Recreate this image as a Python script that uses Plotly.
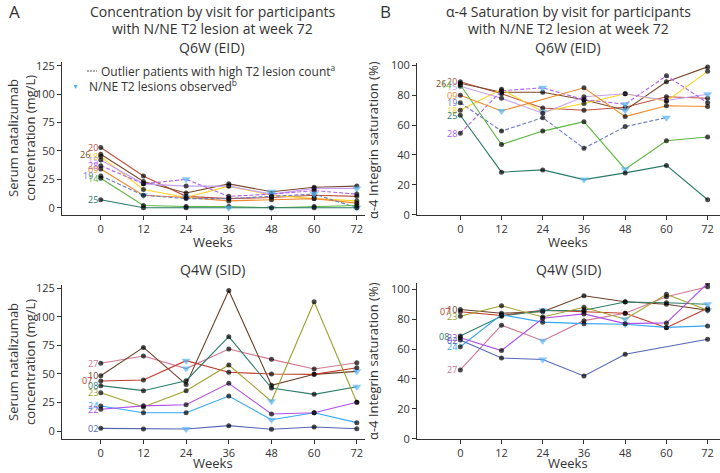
import plotly.graph_objects as go

# ---------------- data ----------------
WEEKS = [0, 12, 24, 36, 48, 60, 72]

# Q6W (EID) participants
Q6W_IDS = ["20", "26", "18", "15", "28", "09", "19", "14", "25"]
Q6W_OUTLIERS = ["19", "28"]
# Serum natalizumab concentration (mg/L), rows follow Q6W_IDS
Q6W_CONC = [
    [53, 28, 10, 8, 9, 11, 10],
    [47, 23, 13, 21, 14, 18, 19],
    [45, 16, 9, 19, 11, 8, 6],
    [42, 21, 19, 19, 12, 17, 17],
    [37, 21, 25, 10, 12, 15, 12],
    [34, 11, 9, 6, 7, 8, 4],
    [28, 11, 8, 8, 10, 12, 0],
    [26, 2, 1, 1, 0, 1, 2],
    [7, 0, 0, 0, 0, 0, 0],
]
# alpha-4 integrin saturation (%), rows follow Q6W_IDS
Q6W_SAT = [
    [89, 81, 71.5, 70, 72, 79, 78],
    [88, 82, 82, 77, 70, 89, 99],
    [70, 84, 69, 74.5, 81, 76, 96],
    [86, 78, 68, 79, 81, 76.5, 80.7],
    [54.5, 83, 85, 77, 74, 93, 75],
    [80, 69.5, None, 85, 65.7, 73, 72.5],
    [75, 56, 65, 44.5, 59, 65, None],
    [87, 47, 56, 62.3, 30.5, 49.5, 52],
    [66.6, 28.5, 30, 23.5, 28, 33, 10],
]
# weeks at which N/NE T2 lesions were observed
Q6W_LESION_WEEKS = [[], [48], [24], [72], [24, 48], [12], [60, 72], [48], [36]]

# Q4W (SID) participants
Q4W_IDS = ["27", "10", "07", "08", "23", "24", "22", "02"]
Q4W_CONC = [
    [59.3, 65.7, 54.6, 71.8, 62.7, 54.3, 59.8],
    [48.4, 73.2, 40.8, 123, 40, 49.6, 52.2],
    [43.8, 44.6, 61.6, 51.4, 49.9, 49.6, 55.4],
    [39.7, 35.3, 44, 82.6, 37.6, 32.1, 38.8],
    [33.5, 21, 35.3, 57.8, 26, 113.2, 25.1],
    [21.9, 16, 16, 30.6, 9.9, 16, 7.3],
    [19, 22, 23, 41.7, 14.9, 16, 25.1],
    [2.3, 1.8, 1.8, 4.7, 1.5, 3.5, 2],
]
Q4W_SAT = [
    [46, 76, 65.6, 79, 84, 95, 101.7],
    [86.5, 84, 85, 95.7, 91.7, 90, 86],
    [85, 82.5, 86, 85, 84, 74.3, 87.3],
    [68.7, 82, 85.7, 86, 91.5, 91, 90],
    [82, 89, 81.5, 88, 80, 96.6, 86],
    [61.5, 83, 78, 77, 76.6, 74.5, 75.5],
    [67.5, 59, 80.6, 83.5, 77, 77.5, 104],
    [66, 54, 53, 42, 56.5, None, 66.5],
]
Q4W_LESION_WEEKS = [[24], [72], [24], [72], [48], [48], [], [24]]

# ---------------- styling ----------------
COLORS = {
    "20": "#c0503f", "26": "#7a4a2a", "18": "#ffd21f", "15": "#c6a0f2",
    "28": "#b060f5", "09": "#f08a2a", "19": "#6a7cc0", "14": "#5cb840",
    "25": "#2a7a6a",
    "27": "#d27890", "10": "#6b4026", "07": "#c0392b", "08": "#2e7d6b",
    "23": "#a0a030", "24": "#35a7f5", "22": "#b050e8", "02": "#5466b8",
}
TRI = "#55b4f5"
TXT = "#333333"
FONT = "Open Sans"
W, H = 720, 473

def px(x):
    return x / W

def py(y):
    return 1 - y / H

# panel definitions: (xaxis, yaxis, ids, values, lesions, outliers, label nudges)
panels = [
    ("x", "y", Q6W_IDS, Q6W_CONC, Q6W_LESION_WEEKS, Q6W_OUTLIERS, {"26": -8, "19": -5}),
    ("x2", "y2", Q6W_IDS, Q6W_SAT, Q6W_LESION_WEEKS, Q6W_OUTLIERS, {"26": -11, "14": -6}),
    ("x3", "y3", Q4W_IDS, Q4W_CONC, Q4W_LESION_WEEKS, [], {"07": -6}),
    ("x4", "y4", Q4W_IDS, Q4W_SAT, Q4W_LESION_WEEKS, [], {"07": -7, "08": -8}),
]

fig = go.Figure()
annotations = []

for xa, ya, ids, vals, lesions, outliers, nudges in panels:
    for pid, series, les in zip(ids, vals, lesions):
        syms, cols, sizes = [], [], []
        for wk in WEEKS:
            if wk in les:
                syms.append("triangle-down"); cols.append(TRI); sizes.append(8)
            else:
                syms.append("circle"); cols.append("black"); sizes.append(5)
        fig.add_trace(go.Scatter(
            x=WEEKS, y=series, xaxis=xa, yaxis=ya, mode="lines+markers",
            connectgaps=True, showlegend=False, hoverinfo="skip",
            line=dict(color=COLORS[pid], width=1.1,
                      dash="4px,2px" if pid in outliers else "solid"),
            marker=dict(symbol=syms, color=cols, size=sizes, line=dict(width=0)),
        ))
        annotations.append(dict(
            x=WEEKS[0], y=series[0], xref=xa, yref=ya, text=pid, showarrow=False,
            xanchor="right", yanchor="middle", xshift=-1 + nudges.get(pid, 0),
            font=dict(family=FONT, size=9, color=COLORS[pid]),
        ))

axis_common = dict(showline=True, linecolor=TXT, linewidth=1, ticks="outside",
                   ticklen=4, tickcolor=TXT, showgrid=False, zeroline=False,
                   automargin=False,
                   tickfont=dict(family=FONT, size=11, color=TXT))
xticks = dict(tickmode="array", tickvals=WEEKS, ticktext=[str(w) for w in WEEKS])

fig.update_layout(
    template="none",
    width=W, height=H, autosize=False, margin=dict(l=0, r=0, t=0, b=0, pad=0),
    paper_bgcolor="white", plot_bgcolor="white", showlegend=False,
    xaxis=dict(domain=[px(62), px(365)], range=[-10.9, 74.3], anchor="y", **xticks, **axis_common),
    yaxis=dict(domain=[py(215), py(62)], range=[-6.43, 128.3], anchor="x",
               tickvals=[0, 25, 50, 75, 100, 125], **axis_common),
    xaxis2=dict(domain=[px(417), px(720)], range=[-12.6, 75.6], anchor="y2", **xticks, **axis_common),
    yaxis2=dict(domain=[py(214.7), py(63)], range=[0, 101.6], anchor="x2",
                tickvals=[0, 20, 40, 60, 80, 100], **axis_common),
    xaxis3=dict(domain=[px(62), px(365)], range=[-10.9, 74.3], anchor="y3", **xticks, **axis_common),
    yaxis3=dict(domain=[py(438.7), py(285)], range=[-6.74, 127.8], anchor="x3",
                tickvals=[0, 25, 50, 75, 100, 125], **axis_common),
    xaxis4=dict(domain=[px(417), px(720)], range=[-12.6, 75.6], anchor="y4", **xticks, **axis_common),
    yaxis4=dict(domain=[py(438.7), py(283)], range=[0, 104.2], anchor="x4",
                tickvals=[0, 20, 40, 60, 80, 100], **axis_common),
)

def text(x, y, s, size, color=TXT, **kw):
    d = dict(x=px(x), y=py(y), xref="paper", yref="paper", text=s, showarrow=False,
             xanchor="center", yanchor="middle",
             font=dict(family=FONT, size=size, color=color))
    d.update(kw)
    annotations.append(d)

# panel letters
text(7, 11, "A", 17, xanchor="left")
text(378, 11, "B", 17, xanchor="left")
# titles
text(212, 12, "Concentration by visit for participants", 14)
text(212, 28, "with N/NE T2 lesion at week 72", 14)
text(568, 12, "α-4 Saturation by visit for participants", 14)
text(568, 28, "with N/NE T2 lesion at week 72", 14)
# subplot titles
text(212, 47, "Q6W (EID)", 14)
text(568, 47, "Q6W (EID)", 14)
text(212, 269, "Q4W (SID)", 14)
text(568, 269, "Q4W (SID)", 14)
# x titles
text(213, 242, "Weeks", 13)
text(568, 242, "Weeks", 13)
text(213, 463, "Weeks", 13)
text(568, 463, "Weeks", 13)
# y titles
text(21, 138, "Serum natalizumab<br>concentration (mg/L)", 13, textangle=-90)
text(21, 362, "Serum natalizumab<br>concentration (mg/L)", 13, textangle=-90)
text(373, 140, "α-4 Integrin saturation (%)", 13, textangle=-90)
text(373, 361, "α-4 Integrin saturation (%)", 13, textangle=-90)
# legend entries
text(99, 71, "Outlier patients with high T2 lesion count<sup>a</sup>", 12, xanchor="left")
text(75, 86, "▼", 7, color=TRI)
text(87, 86, "N/NE T2 lesions observed<sup>b</sup>", 12, xanchor="left")

fig.add_shape(type="line", xref="paper", yref="paper", x0=px(87), x1=px(97),
              y0=py(71), y1=py(71), line=dict(color="#555", width=1, dash="2px,1px"))

fig.update_layout(annotations=annotations)
fig.write_html(
    "out.html",
    config={"displayModeBar": False, "responsive": False},
    post_script="document.body.style.margin='0px';document.body.style.overflow='hidden';",
)
